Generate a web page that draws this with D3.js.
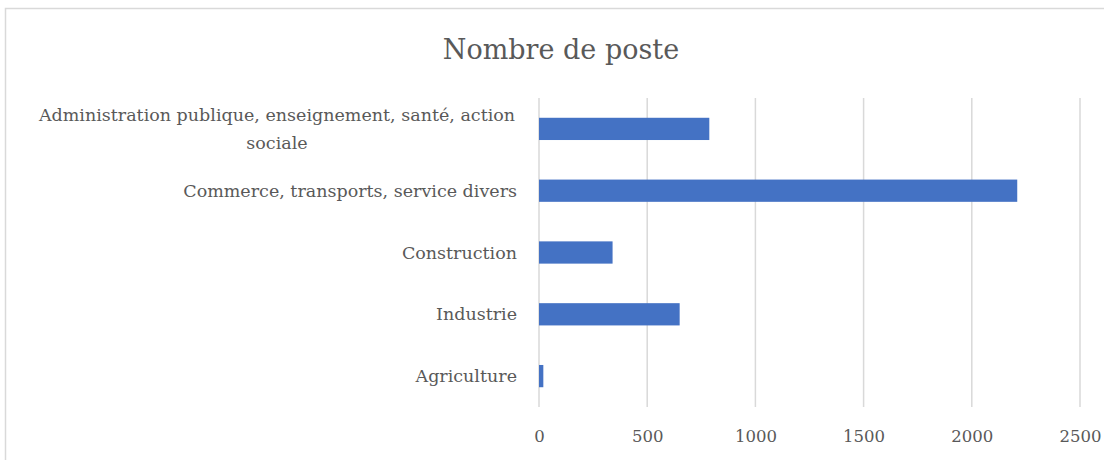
<!DOCTYPE html>
<html>
<head>
<meta charset="utf-8">
<script src="https://cdn.jsdelivr.net/npm/d3@7"></script>
<style>
  body { margin: 0; background: #fff; }
  text { font-family: "DejaVu Serif", "Liberation Serif", serif; fill: #595959; }
</style>
</head>
<body>
<svg id="chart"></svg>
<script>
// données
const categories = [
  "Administration publique, enseignement, santé, action sociale",
  "Commerce, transports, service divers",
  "Construction",
  "Industrie",
  "Agriculture"
];
const valeurs = [787, 2210, 340, 650, 20];
const ticks = [0, 500, 1000, 1500, 2000, 2500];
const titre = "Nombre de poste";

const W = 1104, H = 460;
const margin = {top: 98, right: 24, bottom: 53, left: 539};

const svg = d3.select("#chart").attr("width", W).attr("height", H);

// cadre
svg.append("rect")
  .attr("x", 5.5).attr("y", 8.5)
  .attr("width", W + 10).attr("height", H + 10)
  .attr("fill", "none").attr("stroke", "#d9d9d9").attr("stroke-width", 1.5);

const x = d3.scaleLinear().domain([0, 2500]).range([margin.left, 1080]);
const y = d3.scaleBand().domain(categories)
  .range([margin.top, H - margin.bottom]).paddingInner(0.64).paddingOuter(0.32);

// titre
svg.append("text")
  .attr("x", 561).attr("y", 59)
  .attr("text-anchor", "middle")
  .style("font-size", "27px")
  .text(titre);

// grille
svg.append("g").selectAll("line")
  .data(ticks).enter().append("line")
  .attr("x1", d => x(d)).attr("x2", d => x(d))
  .attr("y1", margin.top).attr("y2", H - margin.bottom)
  .attr("stroke", "#d9d9d9").attr("stroke-width", 1.5);

// axe x
const xAxis = svg.append("g")
  .attr("transform", `translate(0,${H - margin.bottom})`)
  .call(d3.axisBottom(x).tickValues(ticks).tickFormat(d3.format("d")).tickSize(0).tickPadding(23));
xAxis.select(".domain").remove();
xAxis.selectAll("text").style("font-size", "16.5px").attr("fill", "#595959")
  .style("font-family", "'DejaVu Serif', serif");

// barres
svg.append("g").selectAll("rect")
  .data(valeurs).enter().append("rect")
  .attr("x", x(0))
  .attr("y", (d, i) => y(categories[i]))
  .attr("width", d => x(d) - x(0))
  .attr("height", y.bandwidth())
  .attr("fill", "#4472c4");

// étiquettes
const lab = svg.append("g").selectAll("text")
  .data(categories).enter().append("text")
  .attr("text-anchor", "end")
  .attr("x", 517)
  .attr("y", d => y(d) + y.bandwidth() / 2 + 6)
  .style("font-size", "17.5px");

lab.each(function(d) {
  const t = d3.select(this);
  if (d.startsWith("Administration")) {
    t.attr("text-anchor", "middle").attr("x", 277).attr("y", y(d) + y.bandwidth() / 2 - 8);
    t.append("tspan").attr("x", 277).text("Administration publique, enseignement, santé, action");
    t.append("tspan").attr("x", 277).attr("dy", 28).text("sociale");
  } else {
    t.text(d);
  }
});
</script>
</body>
</html>
